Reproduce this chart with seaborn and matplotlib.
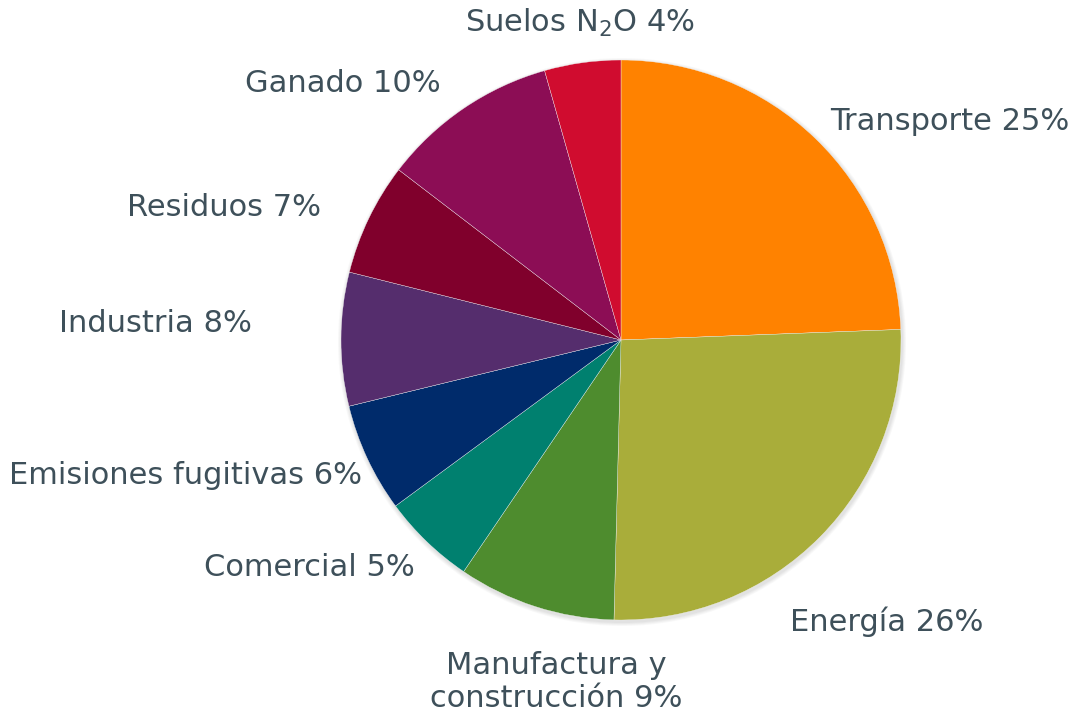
import matplotlib
matplotlib.use('Agg')
import matplotlib.pyplot as plt
import seaborn as sns
from matplotlib.patches import Circle

# Datos.
sectores = ['Transporte', 'Energía', 'Manufactura y construcción', 'Comercial',
            'Emisiones fugitivas', 'Industria', 'Residuos', 'Ganado', 'Suelos N2O']
valores = [24.4, 26.0, 9.1, 5.4, 6.3, 7.7, 6.5, 10.2, 4.4]
etiquetas = ['Transporte 25%', 'Energía 26%', 'Manufactura y\nconstrucción 9%',
             'Comercial 5%', 'Emisiones fugitivas 6%', 'Industria 8%',
             'Residuos 7%', 'Ganado 10%', r'Suelos N$_\mathregular{2}$O 4%']
colores = ['#ff8200', '#a9ad3a', '#4e8c2e', '#00806f', '#002b6b',
           '#552d6d', '#80002c', '#8c0d55', '#d00c2f']

# Posición de las etiquetas en píxeles (x, y, alineación).
pos_etiquetas = [(830, 122, 'left'), (790, 622, 'left'), (556, 682, 'center'),
                 (415, 567, 'right'), (362, 476, 'right'), (252, 323, 'right'),
                 (321, 207, 'right'), (441, 83, 'right'), (580, 23, 'center')]

sns.set_theme(style='white')
plt.rcParams['font.family'] = ['DejaVu Sans']

fig = plt.figure(figsize=(10.77, 7.18), dpi=100)
ax = fig.add_axes([0, 0, 1, 1])

centro = (621, 340)
radio = 280

# Sombra suave.
for k, a in enumerate([0.05, 0.05, 0.06, 0.07]):
    ax.add_patch(Circle((centro[0] + 1, centro[1] + 2), radio + 4 - k,
                        color='gray', alpha=a, lw=0, zorder=0))

ax.pie(valores, colors=colores, startangle=-90, counterclock=True,
       center=centro, radius=radio, frame=True,
       wedgeprops=dict(edgecolor='#f4f4f4', linewidth=0.25, zorder=1))

for texto, (x, y, ha) in zip(etiquetas, pos_etiquetas):
    ax.text(x, y, texto, ha=ha, va='center', multialignment='center',
            fontsize=22, color='#3e505a', linespacing=1.15)

ax.set_xlim(0, 1077)
ax.set_ylim(718, 0)
ax.set_aspect('equal')
ax.axis('off')

fig.savefig('out.png', dpi=100)
